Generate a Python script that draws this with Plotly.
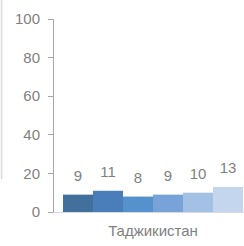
import plotly.graph_objects as go

categories = ["Таджикистан"]
series_names = ["s1", "s2", "s3", "s4", "s5", "s6"]
series_values = [9, 11, 8, 9, 10, 13]
colors = ["#41709c", "#4a7ebb", "#5592cd", "#77a3d8", "#a3c1e4", "#c4d6ed"]
y_ticks = [0, 20, 40, 60, 80, 100]

FONT = "Liberation Sans, Arial, sans-serif"
GRAY = "#7f7f7f"
LABEL_PAD = 4.1  # gap (in axis units) between bar top and its value label

fig = go.Figure()
for i, (name, val, col) in enumerate(zip(series_names, series_values, colors)):
    fig.add_trace(go.Bar(
        x=categories, y=[val], name=name, offsetgroup=str(i),
        marker=dict(color=col, line=dict(width=0)),
        hoverinfo="skip",
    ))
for i, (name, val) in enumerate(zip(series_names, series_values)):
    fig.add_trace(go.Bar(
        x=categories, y=[LABEL_PAD], base=[val], name=name + " label",
        offsetgroup=str(i),
        marker=dict(color="rgba(0,0,0,0)", line=dict(width=0)),
        text=[str(val)], textposition="outside",
        textfont=dict(family=FONT, size=15, color=GRAY),
        cliponaxis=False, hoverinfo="skip",
    ))

fig.update_layout(
    width=244, height=246,
    margin=dict(l=54, r=0, t=19, b=34, autoexpand=False),
    paper_bgcolor="white", plot_bgcolor="white",
    barmode="group", bargap=0.091, bargroupgap=0,
    showlegend=False,
    xaxis=dict(
        range=[-0.5, 0.4596],
        showline=True, linecolor="#d9d9d9", linewidth=1,
        ticks="", showgrid=False, zeroline=False,
        tickfont=dict(family=FONT, size=15, color=GRAY),
        ticklabelstandoff=5,
    ),
    yaxis=dict(
        range=[0, 100], tickvals=y_ticks,
        showline=True, linecolor="#a6a6a6", linewidth=1,
        ticks="outside", ticklen=5, tickcolor="#a6a6a6",
        showgrid=False, zeroline=False,
        tickfont=dict(family=FONT, size=15, color=GRAY),
        ticklabelstandoff=5,
    ),
    shapes=[dict(type="line", xref="paper", yref="paper",
                 x0=-0.276, x1=-0.276, y0=1.1, y1=0.171,
                 line=dict(color="#d9d9d9", width=1.5))],
)

fig.write_html("out.html", config={"displayModeBar": False},
               post_script="document.body.style.margin='0';document.body.style.overflow='hidden';")
